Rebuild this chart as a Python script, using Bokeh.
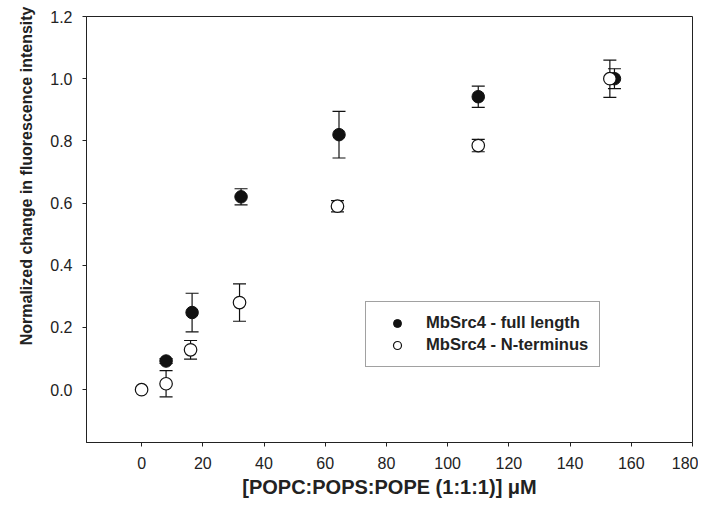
from bokeh.plotting import figure
from bokeh.models import (ColumnDataSource, Whisker, TeeHead, Range1d, FixedTicker,
                          Legend, LegendItem, Title, PrintfTickFormatter)
from bokeh.embed import file_html
from bokeh.resources import INLINE

# ---- data ----
full_x = [8, 16.5, 32.5, 64.5, 110, 154.5]
full_y = [0.092, 0.248, 0.620, 0.820, 0.942, 1.000]
full_err = [0.008, 0.062, 0.026, 0.075, 0.034, 0.032]

nterm_x = [0, 8, 16, 32, 64, 110, 153]
nterm_y = [0.000, 0.019, 0.128, 0.280, 0.590, 0.785, 1.000]
nterm_err = [0.0, 0.042, 0.030, 0.060, 0.018, 0.020, 0.060]

x_ticks = [0, 20, 40, 60, 80, 100, 120, 140, 160, 180]
y_ticks = [0.0, 0.2, 0.4, 0.6, 0.8, 1.0, 1.2]

label_full = "MbSrc4 - full length"
label_nterm = "MbSrc4 - N-terminus"
x_title = "[POPC:POPS:POPE (1:1:1)] \u03bcM"
y_title = "Normalized change in fluorescence intensity"

FONT = "Liberation Sans"

p = figure(width=698, height=507, output_backend="svg", toolbar_location=None,
           x_range=Range1d(-18, 180), y_range=Range1d(-0.17, 1.2),
           min_border_left=86, min_border_right=6, min_border_top=16, min_border_bottom=65)
p.grid.visible = False
p.outline_line_color = "#222222"
p.outline_line_width = 1
p.background_fill_color = "white"
p.border_fill_color = "white"

for ax in (p.xaxis[0], p.yaxis[0]):
    ax.axis_line_color = "#222222"
    ax.major_tick_line_color = "#222222"
    ax.major_tick_in = 0
    ax.major_tick_out = 4
    ax.minor_tick_line_color = None
    ax.major_label_text_font = FONT
    ax.major_label_text_font_size = "16px"
    ax.major_label_text_color = "#222222"

p.xaxis.ticker = FixedTicker(ticks=x_ticks)
p.yaxis.ticker = FixedTicker(ticks=y_ticks)
p.yaxis.formatter = PrintfTickFormatter(format="%.1f")
p.xaxis.major_label_standoff = 10
p.yaxis.major_label_standoff = 10

p.xaxis.axis_label = x_title
p.xaxis.axis_label_text_font = FONT
p.xaxis.axis_label_text_font_size = "20px"
p.xaxis.axis_label_text_font_style = "bold"
p.xaxis.axis_label_text_color = "#222222"
p.xaxis.axis_label_standoff = 4

ytitle = Title(text=y_title, align="right", offset=-10, text_font=FONT,
               text_font_size="16px", text_font_style="bold", text_color="#222222",
               standoff=26)
p.add_layout(ytitle, "left")

# ---- error bars ----
def whisk(xs, ys, es):
    sel = [i for i in range(len(xs)) if es[i] > 0]
    src = ColumnDataSource(dict(
        x=[xs[i] for i in sel],
        upper=[ys[i] + es[i] for i in sel],
        lower=[ys[i] - es[i] for i in sel]))
    w = Whisker(source=src, base="x", upper="upper", lower="lower",
                line_color="#111111", line_width=1.2,
                upper_head=TeeHead(size=13, line_color="#111111", line_width=1.2),
                lower_head=TeeHead(size=13, line_color="#111111", line_width=1.2))
    p.add_layout(w)

whisk(full_x, full_y, full_err)
whisk(nterm_x, nterm_y, nterm_err)

r_full = p.scatter(full_x, full_y, size=12.5, marker="circle",
                   fill_color="#111111", line_color="#111111", line_width=1)
r_nterm = p.scatter(nterm_x, nterm_y, size=12.5, marker="circle",
                    fill_color="white", line_color="#111111", line_width=1.2)

legend = Legend(items=[LegendItem(label=label_full, renderers=[r_full]),
                       LegendItem(label=label_nterm, renderers=[r_nterm])],
                location=(279, 75), padding=11, margin=0, spacing=2,
                glyph_width=40, glyph_height=20, label_height=20, label_standoff=9,
                label_text_font=FONT, label_text_font_size="16.6px",
                label_text_font_style="bold", label_text_color="#222222",
                border_line_color="#444444", border_line_width=1,
                background_fill_alpha=1)
p.add_layout(legend)

open("out.html", "w").write(file_html(p, INLINE))
